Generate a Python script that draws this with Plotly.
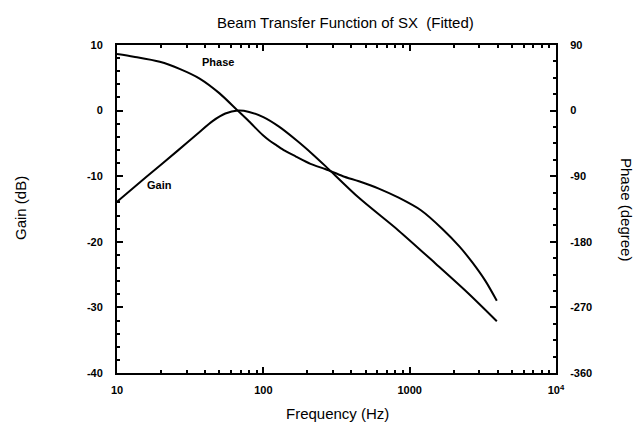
import plotly.graph_objects as go

# Data
freq_gain = [10, 15.9, 26, 36, 45, 55, 67, 80, 100, 128, 170, 216, 267, 450, 841, 1500, 2500, 3940]
gain_db   = [-13.9, -10.1, -6.1, -3.4, -1.6, -0.45, 0.0, -0.2, -1.0, -2.45, -4.6, -6.6, -8.5, -13.3, -18.3, -23.3, -27.8, -32.1]

freq_phase = [10, 13, 19.6, 27, 36.7, 50, 66.8, 80, 99, 110, 122, 140, 167, 210, 267, 350, 450, 615, 841, 1200, 1667, 2200, 2673, 3300, 3940]
phase_deg  = [77.7, 74, 67, 57, 44, 24, 0, -15, -33.5, -41, -47, -55, -63, -73, -80.5, -90, -97, -107, -119.5, -137, -162, -187, -208, -234, -261]

x_tickvals = [10, 100, 1000, 10000]
x_ticktext = ["10", "100", "1000", "10<sup>4</sup>"]
y_tickvals = [10, 0, -10, -20, -30, -40]
y_ticktext = ["10", "0", "-10", "-20", "-30", "-40"]
y2_tickvals = [90, 0, -90, -180, -270, -360]
y2_ticktext = ["90", "0", "-90", "-180", "-270", "-360"]

FONT = "Liberation Sans, Arial, sans-serif"
L, R, T, B = 117, 556, 45, 373
W, H = 636, 426

fig = go.Figure()
fig.add_trace(go.Scatter(x=freq_gain, y=gain_db, mode="lines",
                         line=dict(color="black", width=2, shape="spline", smoothing=0.8),
                         name="Gain", showlegend=False))
fig.add_trace(go.Scatter(x=freq_phase, y=phase_deg, mode="lines",
                         line=dict(color="black", width=2, shape="spline", smoothing=0.8),
                         name="Phase", yaxis="y2", showlegend=False))

tickfont = dict(family=FONT, size=11, color="black", weight="bold")

def px_to_paper(xp, yp):
    return (xp - L) / (R - L), (B - yp) / (B - T)

ann_specs = [
    ("Beam Transfer Function of SX  (Fitted)", 345, 22, 0, 15, False),
    ("Gain (dB)", 20, 208, -90, 15, False),
    ("Phase (degree)", 627, 209, 90, 15, False),
    ("Frequency (Hz)", 337, 413, 0, 15, False),
    ("Phase", 218, 62, 0, 11, True),
    ("Gain", 159, 185, 0, 11, True),
]
anns = []
for text, xp, yp, ang, size, bold in ann_specs:
    xx, yy = px_to_paper(xp, yp)
    anns.append(dict(text=f"<b>{text}</b>" if bold else text, x=xx, y=yy, xref="paper", yref="paper",
                     xanchor="center", yanchor="middle", showarrow=False, textangle=ang,
                     font=dict(family=FONT, size=size, color="black")))

fig.update_layout(
    width=W, height=H,
    margin=dict(l=L, r=W - R, t=T, b=H - B, autoexpand=False),
    paper_bgcolor="white", plot_bgcolor="white",
    xaxis=dict(type="log", range=[1, 4], tickvals=x_tickvals, ticktext=x_ticktext,
               ticks="inside", ticklen=6, tickwidth=1.5, tickcolor="black",
               minor=dict(dtick="D1", ticks="inside", ticklen=3, tickcolor="black", showgrid=False),
               showline=True, linewidth=2, linecolor="black", mirror="ticks",
               showgrid=False, zeroline=False, tickfont=tickfont, ticklabelstandoff=6,
               automargin=False),
    yaxis=dict(range=[-40, 10], tickvals=y_tickvals, ticktext=y_ticktext,
               ticks="inside", ticklen=6, tickwidth=1.5, tickcolor="black",
               minor=dict(dtick=2, ticks="inside", ticklen=3, tickcolor="black", showgrid=False),
               showline=True, linewidth=2, linecolor="black",
               showgrid=False, zeroline=False, tickfont=tickfont, ticklabelstandoff=10,
               automargin=False),
    yaxis2=dict(range=[-360, 90], overlaying="y", side="right", tickvals=y2_tickvals, ticktext=y2_ticktext,
                ticks="inside", ticklen=6, tickwidth=1.5, tickcolor="black",
                minor=dict(dtick=22.5, ticks="inside", ticklen=3, tickcolor="black", showgrid=False),
                showline=True, linewidth=2, linecolor="black",
                showgrid=False, zeroline=False, tickfont=tickfont, ticklabelstandoff=10,
                automargin=False),
    annotations=anns,
)

fig.write_html("out.html", config={"displayModeBar": False},
               post_script="document.body.style.margin='0';document.body.style.padding='0';")
